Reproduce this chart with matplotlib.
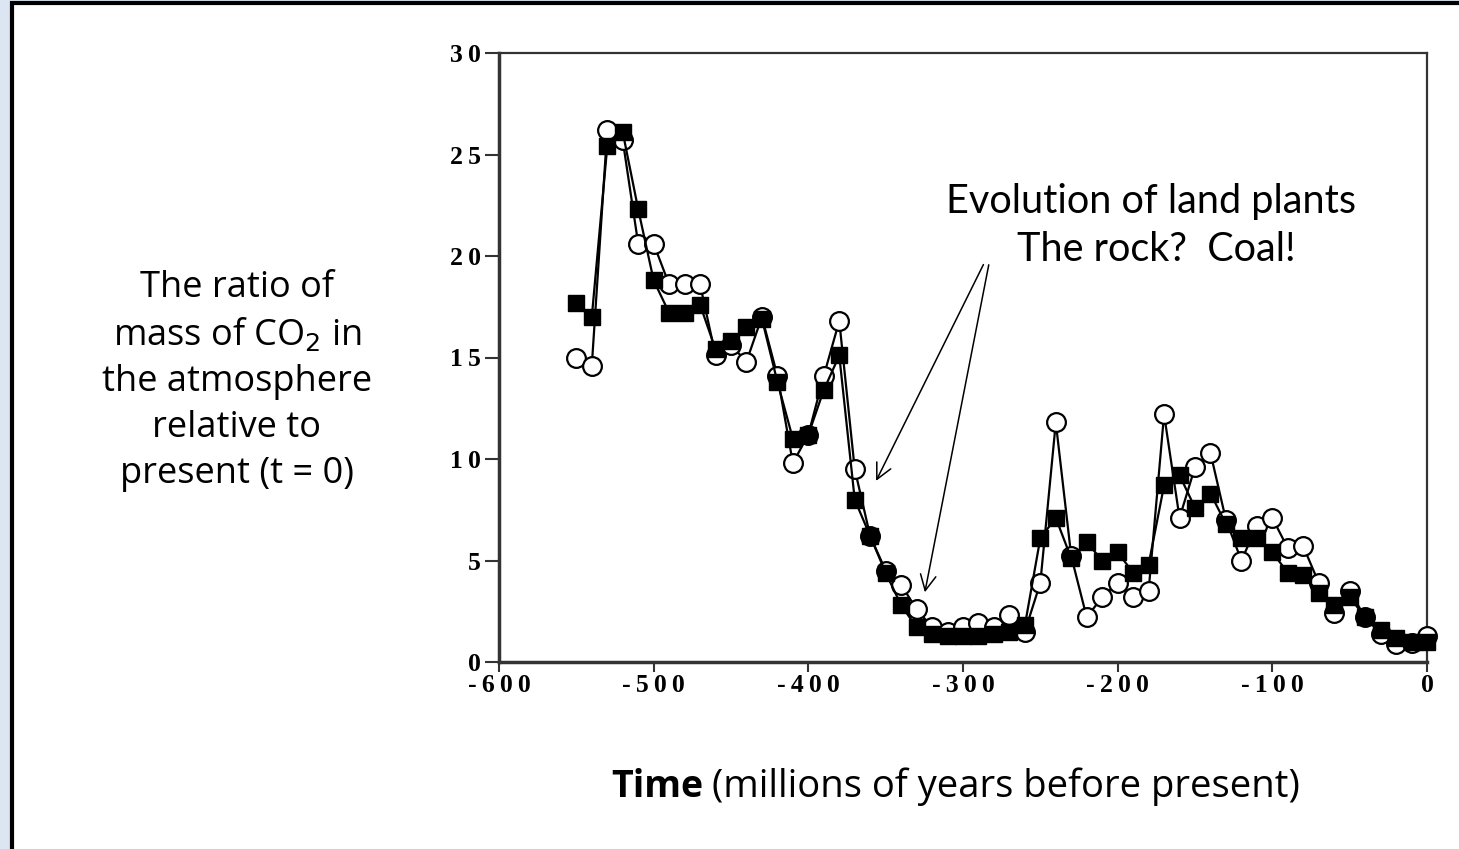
import matplotlib.pyplot as plt
from matplotlib.patches import Rectangle

# Tiempo (Ma antes del presente) y razón de CO2 atmosférico respecto al presente
tiempo = list(range(-550, 1, 10))
co2_cuadrados = [17.7, 17.0, 25.4, 26.1, 22.3, 18.8, 17.2, 17.2, 17.6, 15.4,
                 15.8, 16.5, 16.9, 13.8, 11.0, 11.2, 13.4, 15.1, 8.0, 6.2,
                 4.4, 2.8, 1.7, 1.4, 1.3, 1.3, 1.3, 1.4, 1.5, 1.8,
                 6.1, 7.1, 5.1, 5.9, 5.0, 5.4, 4.4, 4.8, 8.7, 9.2,
                 7.6, 8.3, 6.8, 6.1, 6.1, 5.4, 4.4, 4.3, 3.4, 2.8,
                 3.2, 2.2, 1.6, 1.2, 1.0, 1.0]
co2_circulos = [15.0, 14.6, 26.2, 25.7, 20.6, 20.6, 18.6, 18.6, 18.6, 15.1,
                15.6, 14.8, 17.0, 14.1, 9.8, 11.2, 14.1, 16.8, 9.5, 6.2,
                4.5, 3.8, 2.6, 1.7, 1.5, 1.7, 1.9, 1.7, 2.3, 1.5,
                3.9, 11.8, 5.2, 2.2, 3.2, 3.9, 3.2, 3.5, 12.2, 7.1,
                9.6, 10.3, 7.0, 5.0, 6.7, 7.1, 5.6, 5.7, 3.9, 2.4,
                3.5, 2.2, 1.4, 0.9, 0.95, 1.3]

ticks_x = [-600, -500, -400, -300, -200, -100, 0]
ticks_y = [0, 5, 10, 15, 20, 25, 30]


def espaciado(n):
    # cifras separadas por un espacio fino, como en la figura original
    return '\u2009'.join(str(n))


fig = plt.figure(figsize=(14.59, 8.49), dpi=100)
fig.patch.set_facecolor('#dce6f2')

# marco de la diapositiva
W, H = 1459, 849
marco = Rectangle((12 / W, -0.05), 1.1, (H - 3) / H + 0.05, transform=fig.transFigure,
                  facecolor='white', edgecolor='black', linewidth=3, zorder=-5)
fig.patches.append(marco)

ax = fig.add_axes([499 / W, (H - 662) / H, (1427 - 499) / W, (662 - 53) / H])
ax.set_facecolor('white')

ax.plot(tiempo, co2_circulos, color='black', lw=1.6, marker='o', ms=13.5,
        mfc='white', mec='black', mew=1.6, zorder=3, clip_on=False)
ax.plot(tiempo, co2_cuadrados, color='black', lw=1.6, marker='s', ms=12,
        mfc='black', mec='black', zorder=4, clip_on=False)

ax.set_xlim(-600, 0)
ax.set_ylim(0, 30)
ax.set_xticks(ticks_x)
ax.set_yticks(ticks_y)
ax.set_xticklabels([espaciado(t) for t in ticks_x], fontfamily='Liberation Serif',
                   fontweight='bold', fontsize=18.5)
ax.set_yticklabels([espaciado(t) for t in ticks_y], fontfamily='Liberation Serif',
                   fontweight='bold', fontsize=18.5)
ax.tick_params(axis='y', direction='out', length=10, width=1.5, color='#333333', pad=3)
ax.tick_params(axis='x', direction='out', length=7.5, width=1.5, color='#333333', pad=1.5)
for lado in ['left', 'bottom']:
    ax.spines[lado].set_linewidth(2.5)
    ax.spines[lado].set_color('#333333')
for lado in ['top', 'right']:
    ax.spines[lado].set_linewidth(1.6)
    ax.spines[lado].set_color('#333333')

# anotación con dos flechas
ax.text(-178.5, 22.7, 'Evolution of land plants', ha='center', va='center',
        fontsize=28.5, fontfamily='Lato')
ax.text(-175.3, 20.3, 'The rock?  Coal!', ha='center', va='center',
        fontsize=28.5, fontfamily='Lato')
ax.annotate('', xy=(-357, 8.8), xytext=(-286, 19.7),
            arrowprops=dict(arrowstyle='->', color='black', lw=1.1,
                            mutation_scale=28))
ax.annotate('', xy=(-325, 3.3), xytext=(-283, 19.7),
            arrowprops=dict(arrowstyle='->', color='black', lw=1.1,
                            mutation_scale=28))

# etiqueta del eje y como bloque de texto a la izquierda
fig.text(237 / W, 1 - 381 / H,
         'The ratio of\nmass of CO$_2$ in\nthe atmosphere\nrelative to\npresent (t = 0)',
         ha='center', va='center', fontsize=26, fontfamily='Open Sans',
         linespacing=1.37)

# etiqueta del eje x
fig.text(703 / W, 1 - 787 / H, 'Time', ha='right', va='center', fontsize=27,
         fontweight='bold', fontfamily='Open Sans')
fig.text(712 / W, 1 - 787 / H, '(millions of years before present)', ha='left',
         va='center', fontsize=27.5, fontfamily='Open Sans')

fig.savefig('out.png', dpi=100, facecolor=fig.get_facecolor())
